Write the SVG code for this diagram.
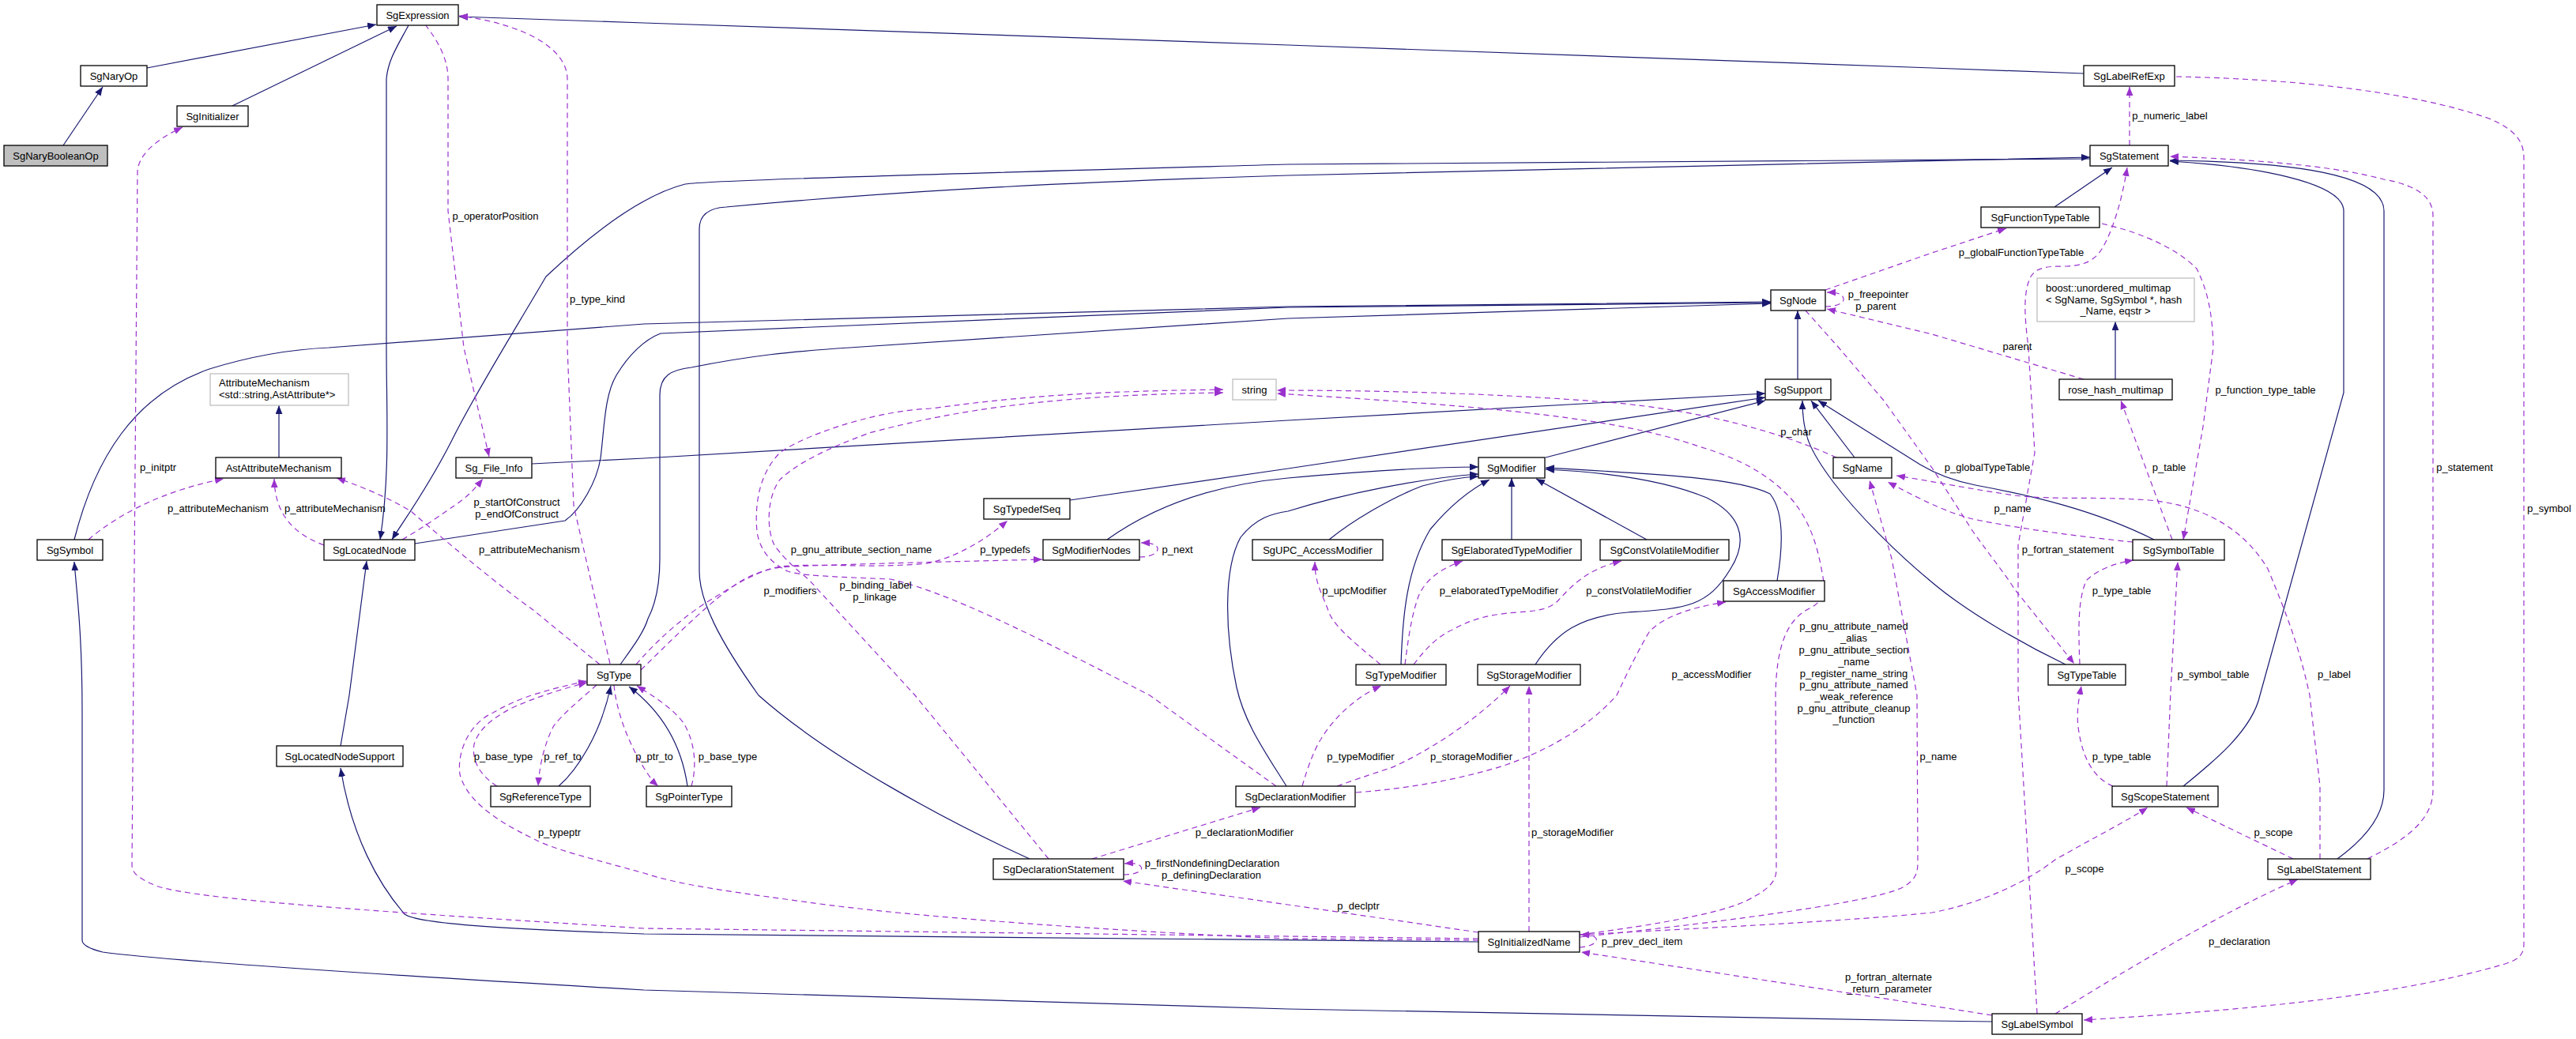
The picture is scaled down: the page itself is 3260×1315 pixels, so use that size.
<svg xmlns="http://www.w3.org/2000/svg" width="3260" height="1315" viewBox="0 0 3260 1315">
<style>
text{font-family:"Liberation Sans",Arial,sans-serif;font-size:13px;fill:#000}
.nt{text-anchor:middle}
.lb{text-anchor:middle}
.box{fill:#fff;stroke:#000;stroke-width:1.3}
.gbox{fill:#fff;stroke:#bfbfbf;stroke-width:1.3}
.cur{fill:#bfbfbf;stroke:#000;stroke-width:1.3}
.inh{fill:none;stroke:#191970;stroke-width:1.2;marker-end:url(#an)}
.use{fill:none;stroke:#9a32cd;stroke-width:1.2;stroke-dasharray:7,5;marker-end:url(#ap)}
</style>
<defs>
<marker id="an" viewBox="0 0 10 8" refX="10" refY="4" markerWidth="11" markerHeight="9" markerUnits="userSpaceOnUse" orient="auto"><path d="M0,0 L10,4 L0,8 z" fill="#191970" stroke="none"/></marker>
<marker id="ap" viewBox="0 0 10 8" refX="10" refY="4" markerWidth="11" markerHeight="9" markerUnits="userSpaceOnUse" orient="auto"><path d="M0,0 L10,4 L0,8 z" fill="#9a32cd" stroke="none"/></marker>
</defs>
<rect width="3260" height="1315" fill="#fff"/>
<g id="connectors">
<!-- inheritance -->
<path class="inh" d="M80,184 L130,110"/>
<path class="inh" d="M186,86 L476,31"/>
<path class="inh" d="M294,134 L502,33"/>
<path class="inh" d="M2637,93 L2445,86 L1630,57 L815,29 L581,21"/>
<path class="inh" d="M517,32 C505,55 491,75 489,100 L489,440 C489,520 494,600 481,683"/>
<path class="inh" d="M2645,201 L1630,208 C1200,220 900,228 867,233 C820,245 760,285 691,350 C650,420 600,500 572,557 C540,620 510,660 496,683"/>
<path class="inh" d="M1303,1087 C1200,1040 1050,960 960,880 C910,810 885,760 885,723 L885,290 C885,270 900,263 919,262 C1100,245 1300,232 1630,222 L2645,199"/>
<path class="inh" d="M2600,262 L2673,212"/>
<path class="inh" d="M2763,995 C2800,965 2850,925 2860,880 L2966,497 L2966,267 C2966,230 2850,210 2746,204"/>
<path class="inh" d="M2958,1087 C2995,1060 3017,1030 3017,1000 L3017,267 C3017,220 2900,205 2746,203"/>
<path class="inh" d="M94,683 C120,580 170,500 265,467 C320,450 370,442 416,440 L815,410 L1630,388 L2241,382"/>
<path class="inh" d="M525,688 L715,659 C735,645 755,610 760,580 C765,540 765,500 780,475 C795,450 815,430 836,422 L1630,389 L2241,383"/>
<path class="inh" d="M785,841 C800,820 815,800 820,783 C832,760 835,730 835,707 L835,500 C835,475 850,468 875,465 C950,450 1000,445 1075,440 L1630,403 L2241,384"/>
<path class="inh" d="M2275,480 L2275,393"/>
<path class="inh" d="M673,587 L815,580 L1630,532 L2234,498"/>
<path class="inh" d="M1354,633 L1630,593 L2234,503"/>
<path class="inh" d="M1956,579 L2234,507"/>
<path class="inh" d="M2347,579 L2292,507"/>
<path class="inh" d="M2726,683 C2650,645 2570,627 2500,614 C2470,608 2450,600 2430,588 L2301,507"/>
<path class="inh" d="M2614,841 C2560,815 2490,775 2445,737 C2400,700 2350,650 2320,610 C2290,570 2281,550 2281,507"/>
<path class="inh" d="M1401,683 C1450,648 1520,615 1630,605 C1720,597 1800,591 1871,591"/>
<path class="inh" d="M1628,995 C1600,950 1575,915 1565,870 C1550,800 1548,720 1570,680 C1590,655 1610,650 1630,647 C1700,625 1800,605 1871,600"/>
<path class="inh" d="M1682,683 C1710,660 1760,630 1800,615 C1830,607 1850,604 1871,603"/>
<path class="inh" d="M1773,841 C1775,780 1780,720 1810,670 C1835,640 1860,620 1885,607"/>
<path class="inh" d="M1913,683 L1913,605"/>
<path class="inh" d="M2084,683 L1944,606"/>
<path class="inh" d="M1943,841 C1970,800 2000,780 2060,775 C2130,770 2160,770 2190,720 C2215,680 2200,650 2160,630 C2100,605 2020,597 1956,594"/>
<path class="inh" d="M2249,735 C2255,700 2260,650 2240,625 C2200,605 2100,600 1956,592"/>
<path class="inh" d="M431,944 L442,880 L464,710"/>
<path class="inh" d="M1871,1192 L815,1182 C650,1176 530,1170 512,1157 C480,1120 445,1060 431,972"/>
<path class="inh" d="M2521,1293 L2445,1292 L1630,1277 L815,1253 C500,1235 200,1215 130,1205 C110,1200 104,1195 104,1190 L104,900 C104,800 97,750 94,711"/>
<path class="inh" d="M707,995 C730,975 760,930 773,868"/>
<path class="inh" d="M870,995 C865,960 850,910 796,869"/>
<path class="inh" d="M2677,480 L2677,407"/>
<path class="inh" d="M353,579 L353,513"/>
<!-- usage -->
<path class="use" d="M538,31 C555,53 567,75 567,100 L567,267 L587,440 L619,578"/>
<path class="use" d="M772,840 L726,640 L718,440 L718,100 C718,60 660,30 581,20"/>
<path class="use" d="M1871,1188 L815,1175 C500,1155 260,1140 200,1122 C175,1112 167,1105 167,1095 L174,217 C175,200 190,180 231,161"/>
<path class="use" d="M112,683 C150,650 210,620 283,606"/>
<path class="use" d="M410,690 C370,675 348,650 347,606"/>
<path class="use" d="M759,841 L676,773 C630,740 570,690 520,647 C500,635 470,620 426,605"/>
<path class="use" d="M509,683 C540,665 560,650 575,640 C590,630 600,620 611,606"/>
<path class="use" d="M805,841 C840,800 880,770 903,757 C930,740 960,722 987,717 C1040,712 1100,720 1174,713 C1210,705 1245,685 1275,659"/>
<path class="use" d="M811,848 C860,800 900,760 935,737 C955,725 975,718 1002,717 C1100,713 1200,711 1319,708"/>
<path class="use" d="M1442,705 C1462,705 1470,695 1462,690 C1458,688 1452,687 1444,687"/>
<path class="use" d="M1615,995 L1455,880 C1300,800 1200,750 1127,733 C1050,730 1010,728 997,723 C980,715 962,700 958,673 C955,640 960,600 987,573 C1010,555 1100,520 1179,517 C1300,500 1400,495 1548,493"/>
<path class="use" d="M1327,1087 L1158,880 L1023,733 C1000,715 987,700 980,690 C970,670 970,630 987,607 C1010,585 1049,567 1100,548 C1179,527 1300,500 1548,497"/>
<path class="use" d="M2324,579 C2250,545 2150,520 2046,510 C1900,498 1750,494 1616,494"/>
<path class="use" d="M1999,1183 C2100,1170 2180,1155 2210,1140 C2240,1125 2248,1115 2248,1100 L2247,880 C2248,820 2260,785 2290,770 C2310,760 2310,745 2306,725 C2300,690 2290,660 2270,635 C2240,600 2200,580 2150,565 C2050,530 1900,515 1616,498"/>
<path class="use" d="M1999,1186 C2200,1165 2380,1140 2410,1122 C2425,1112 2427,1105 2427,1090 L2426,880 L2394,707 L2366,608"/>
<path class="use" d="M2699,686 C2640,680 2560,670 2497,657 C2470,650 2445,640 2389,610"/>
<path class="use" d="M2936,1087 L2936,995 L2923,880 C2910,820 2895,780 2870,720 C2840,670 2790,640 2720,633 C2650,628 2600,633 2550,627 C2500,620 2450,610 2400,602"/>
<path class="use" d="M2310,367 L2445,320 L2539,289"/>
<path class="use" d="M2310,388 C2328,388 2334,382 2333,378 C2332,372 2325,370 2312,370"/>
<path class="use" d="M2637,480 L2445,423 L2312,391"/>
<path class="use" d="M2285,393 L2327,440 L2384,507 L2445,592 L2497,673 C2520,705 2540,730 2549,745 L2625,840"/>
<path class="use" d="M2578,1283 L2554,875 L2554,690 L2575,573 L2567,440 C2562,400 2560,370 2570,350 C2578,338 2590,337 2615,337 C2640,336 2652,328 2660,315 C2675,290 2686,250 2692,212"/>
<path class="use" d="M2660,283 C2700,292 2750,310 2780,340 C2795,370 2800,400 2801,440 L2788,540 L2763,683"/>
<path class="use" d="M2749,683 L2684,507"/>
<path class="use" d="M2632,841 C2630,790 2630,760 2640,735 C2655,720 2680,712 2700,709"/>
<path class="use" d="M2674,995 C2650,985 2635,960 2630,920 C2628,900 2630,890 2634,868"/>
<path class="use" d="M2742,995 L2747,875 L2756,711"/>
<path class="use" d="M2902,1087 L2767,1022"/>
<path class="use" d="M1999,1183 C2150,1175 2350,1165 2445,1155 C2500,1145 2560,1120 2601,1088 C2650,1060 2690,1040 2718,1022"/>
<path class="use" d="M2996,1087 C3040,1065 3079,1040 3079,1000 L3079,273 C3079,250 3060,235 3017,227 C2960,212 2880,203 2746,198"/>
<path class="use" d="M2695,184 L2695,110"/>
<path class="use" d="M2754,97 C2900,100 3050,115 3150,150 C3185,165 3194,180 3194,200 L3194,1195 C3194,1210 3185,1215 3170,1220 C3050,1255 2900,1275 2637,1291"/>
<path class="use" d="M2601,1283 C2680,1235 2800,1160 2908,1113"/>
<path class="use" d="M2521,1285 L2445,1273 L2001,1205"/>
<path class="use" d="M1999,1199 C2015,1198 2022,1192 2020,1188 C2018,1184 2010,1183 2000,1183"/>
<path class="use" d="M1935,1179 L1935,868"/>
<path class="use" d="M1692,995 C1720,985 1750,975 1760,972 C1810,950 1870,910 1911,868"/>
<path class="use" d="M1648,995 C1655,970 1665,945 1672,935 C1690,905 1720,880 1748,868"/>
<path class="use" d="M1716,1003 C1780,998 1840,988 1900,970 C1960,950 2010,920 2046,880 C2060,850 2075,820 2087,800 C2100,785 2130,770 2184,762"/>
<path class="use" d="M1382,1087 L1595,1022"/>
<path class="use" d="M1422,1107 C1440,1107 1447,1101 1444,1097 C1441,1093 1435,1092 1423,1093"/>
<path class="use" d="M1871,1180 L1630,1145 L1421,1115"/>
<path class="use" d="M1871,1190 L1630,1188 C1400,1178 1150,1160 1023,1142 C920,1128 860,1120 815,1105 C750,1087 700,1075 676,1062 C620,1035 590,1010 582,980 C578,950 595,915 624,902 C645,890 670,877 743,862"/>
<path class="use" d="M629,995 C605,980 597,960 600,942 C605,925 620,910 650,895 C680,882 710,872 743,864"/>
<path class="use" d="M755,867 C735,885 710,905 700,920 C690,940 683,965 681,995"/>
<path class="use" d="M777,867 C780,900 795,940 815,972 C820,980 825,988 833,995"/>
<path class="use" d="M875,995 C882,970 880,940 865,915 C850,895 825,880 806,868"/>
<path class="use" d="M1747,841 C1710,810 1685,790 1680,770 C1670,745 1664,735 1664,711"/>
<path class="use" d="M1778,841 C1782,810 1786,780 1795,755 C1805,730 1830,717 1851,710"/>
<path class="use" d="M1789,841 C1805,820 1820,805 1838,797 C1860,785 1880,778 1920,775 C1950,773 1962,770 1972,760 C1990,740 2010,720 2052,710"/>
</g>
<g id="edge-labels">
<text class="lb" x="627" y="278">p_operatorPosition</text>
<text class="lb" x="756" y="383">p_type_kind</text>
<text class="lb" x="200" y="596">p_initptr</text>
<text class="lb" x="276" y="648">p_attributeMechanism</text>
<text class="lb" x="424" y="648">p_attributeMechanism</text>
<text class="lb" x="670" y="700">p_attributeMechanism</text>
<text class="lb" x="654" y="640">p_startOfConstruct</text>
<text class="lb" x="654" y="655">p_endOfConstruct</text>
<text class="lb" x="1272" y="700">p_typedefs</text>
<text class="lb" x="1000" y="752">p_modifiers</text>
<text class="lb" x="1490" y="700">p_next</text>
<text class="lb" x="1090" y="700">p_gnu_attribute_section_name</text>
<text class="lb" x="1108" y="745">p_binding_label</text>
<text class="lb" x="1107" y="760">p_linkage</text>
<text class="lb" x="2273" y="551">p_char</text>
<text class="lb" x="2346" y="797">p_gnu_attribute_named</text>
<text class="lb" x="2346" y="812">_alias</text>
<text class="lb" x="2346" y="827">p_gnu_attribute_section</text>
<text class="lb" x="2346" y="842">_name</text>
<text class="lb" x="2346" y="857">p_register_name_string</text>
<text class="lb" x="2346" y="871">p_gnu_attribute_named</text>
<text class="lb" x="2346" y="886">_weak_reference</text>
<text class="lb" x="2346" y="901">p_gnu_attribute_cleanup</text>
<text class="lb" x="2346" y="915">_function</text>
<text class="lb" x="2453" y="962">p_name</text>
<text class="lb" x="2547" y="648">p_name</text>
<text class="lb" x="2954" y="858">p_label</text>
<text class="lb" x="2558" y="324">p_globalFunctionTypeTable</text>
<text class="lb" x="2377" y="377">p_freepointer</text>
<text class="lb" x="2374" y="392">p_parent</text>
<text class="lb" x="2553" y="443">parent</text>
<text class="lb" x="2515" y="596">p_globalTypeTable</text>
<text class="lb" x="2617" y="700">p_fortran_statement</text>
<text class="lb" x="2867" y="498">p_function_type_table</text>
<text class="lb" x="2745" y="596">p_table</text>
<text class="lb" x="2685" y="752">p_type_table</text>
<text class="lb" x="2685" y="962">p_type_table</text>
<text class="lb" x="2801" y="858">p_symbol_table</text>
<text class="lb" x="2877" y="1058">p_scope</text>
<text class="lb" x="2638" y="1104">p_scope</text>
<text class="lb" x="3119" y="596">p_statement</text>
<text class="lb" x="2746" y="151">p_numeric_label</text>
<text class="lb" x="3226" y="648">p_symbol</text>
<text class="lb" x="2834" y="1196">p_declaration</text>
<text class="lb" x="2390" y="1241">p_fortran_alternate</text>
<text class="lb" x="2391" y="1256">_return_parameter</text>
<text class="lb" x="2078" y="1196">p_prev_decl_item</text>
<text class="lb" x="1990" y="1058">p_storageModifier</text>
<text class="lb" x="1862" y="962">p_storageModifier</text>
<text class="lb" x="1722" y="962">p_typeModifier</text>
<text class="lb" x="2166" y="858">p_accessModifier</text>
<text class="lb" x="1575" y="1058">p_declarationModifier</text>
<text class="lb" x="1534" y="1097">p_firstNondefiningDeclaration</text>
<text class="lb" x="1533" y="1112">p_definingDeclaration</text>
<text class="lb" x="1719" y="1151">p_declptr</text>
<text class="lb" x="708" y="1058">p_typeptr</text>
<text class="lb" x="637" y="962">p_base_type</text>
<text class="lb" x="712" y="962">p_ref_to</text>
<text class="lb" x="828" y="962">p_ptr_to</text>
<text class="lb" x="921" y="962">p_base_type</text>
<text class="lb" x="1714" y="752">p_upcModifier</text>
<text class="lb" x="1897" y="752">p_elaboratedTypeModifier</text>
<text class="lb" x="2074" y="752">p_constVolatileModifier</text>
</g>
<g id="node-SgNaryBooleanOp"><rect class="cur" x="5" y="184" width="131" height="26"/><text class="nt" x="70.5" y="201.5">SgNaryBooleanOp</text></g>
<g id="node-SgNaryOp"><rect class="box" x="102" y="83" width="84" height="26"/><text class="nt" x="144" y="100.5">SgNaryOp</text></g>
<g id="node-SgInitializer"><rect class="box" x="224" y="134" width="90" height="26"/><text class="nt" x="269" y="151.5">SgInitializer</text></g>
<g id="node-SgExpression"><rect class="box" x="477" y="6" width="103" height="26"/><text class="nt" x="528.5" y="23.5">SgExpression</text></g>
<g id="node-SgLabelRefExp"><rect class="box" x="2637" y="83" width="115" height="26"/><text class="nt" x="2694.5" y="100.5">SgLabelRefExp</text></g>
<g id="node-SgStatement"><rect class="box" x="2645" y="184" width="99" height="26"/><text class="nt" x="2694.5" y="201.5">SgStatement</text></g>
<g id="node-SgFunctionTypeTable"><rect class="box" x="2507" y="262" width="150" height="26"/><text class="nt" x="2582" y="279.5">SgFunctionTypeTable</text></g>
<g id="node-boost_unordered_multimap"><rect class="gbox" x="2578" y="352" width="199" height="55"/><text x="2589" y="369">boost::unordered_multimap</text><text x="2589" y="384">&lt; SgName, SgSymbol *, hash</text><text class="nt" x="2677" y="398">_Name, eqstr &gt;</text></g>
<g id="node-SgNode"><rect class="box" x="2241" y="367" width="69" height="26"/><text class="nt" x="2275.5" y="384.5">SgNode</text></g>
<g id="node-rose_hash_multimap"><rect class="box" x="2606" y="480" width="143" height="26"/><text class="nt" x="2677.5" y="497.5">rose_hash_multimap</text></g>
<g id="node-SgSupport"><rect class="box" x="2234" y="480" width="83" height="26"/><text class="nt" x="2275.5" y="497.5">SgSupport</text></g>
<g id="node-string"><rect class="gbox" x="1560" y="480" width="55" height="26"/><text class="nt" x="1587.5" y="497.5">string</text></g>
<g id="node-AttributeMechanism"><rect class="gbox" x="266" y="473" width="175" height="40"/><text x="277" y="489">AttributeMechanism</text><text x="277" y="504">&lt;std::string,AstAttribute*&gt;</text></g>
<g id="node-AstAttributeMechanism"><rect class="box" x="273" y="579" width="159" height="26"/><text class="nt" x="352.5" y="596.5">AstAttributeMechanism</text></g>
<g id="node-Sg_File_Info"><rect class="box" x="577" y="579" width="96" height="26"/><text class="nt" x="625" y="596.5">Sg_File_Info</text></g>
<g id="node-SgSymbol"><rect class="box" x="47" y="683" width="83" height="26"/><text class="nt" x="88.5" y="700.5">SgSymbol</text></g>
<g id="node-SgLocatedNode"><rect class="box" x="410" y="683" width="115" height="26"/><text class="nt" x="467.5" y="700.5">SgLocatedNode</text></g>
<g id="node-SgType"><rect class="box" x="743" y="841" width="68" height="26"/><text class="nt" x="777" y="858.5">SgType</text></g>
<g id="node-SgTypedefSeq"><rect class="box" x="1245" y="631" width="109" height="26"/><text class="nt" x="1299.5" y="648.5">SgTypedefSeq</text></g>
<g id="node-SgModifierNodes"><rect class="box" x="1320" y="683" width="122" height="26"/><text class="nt" x="1381" y="700.5">SgModifierNodes</text></g>
<g id="node-SgUPC_AccessModifier"><rect class="box" x="1585" y="683" width="165" height="26"/><text class="nt" x="1667.5" y="700.5">SgUPC_AccessModifier</text></g>
<g id="node-SgModifier"><rect class="box" x="1871" y="579" width="84" height="26"/><text class="nt" x="1913" y="596.5">SgModifier</text></g>
<g id="node-SgElaboratedTypeModifier"><rect class="box" x="1825" y="683" width="176" height="26"/><text class="nt" x="1913" y="700.5">SgElaboratedTypeModifier</text></g>
<g id="node-SgConstVolatileModifier"><rect class="box" x="2025" y="683" width="163" height="26"/><text class="nt" x="2106.5" y="700.5">SgConstVolatileModifier</text></g>
<g id="node-SgAccessModifier"><rect class="box" x="2181" y="735" width="128" height="26"/><text class="nt" x="2245" y="752.5">SgAccessModifier</text></g>
<g id="node-SgName"><rect class="box" x="2320" y="579" width="74" height="26"/><text class="nt" x="2357" y="596.5">SgName</text></g>
<g id="node-SgSymbolTable"><rect class="box" x="2699" y="683" width="116" height="26"/><text class="nt" x="2757" y="700.5">SgSymbolTable</text></g>
<g id="node-SgTypeModifier"><rect class="box" x="1716" y="841" width="114" height="26"/><text class="nt" x="1773" y="858.5">SgTypeModifier</text></g>
<g id="node-SgStorageModifier"><rect class="box" x="1870" y="841" width="130" height="26"/><text class="nt" x="1935" y="858.5">SgStorageModifier</text></g>
<g id="node-SgTypeTable"><rect class="box" x="2592" y="841" width="98" height="26"/><text class="nt" x="2641" y="858.5">SgTypeTable</text></g>
<g id="node-SgLocatedNodeSupport"><rect class="box" x="350" y="944" width="160" height="26"/><text class="nt" x="430" y="961.5">SgLocatedNodeSupport</text></g>
<g id="node-SgReferenceType"><rect class="box" x="621" y="995" width="126" height="26"/><text class="nt" x="684" y="1012.5">SgReferenceType</text></g>
<g id="node-SgPointerType"><rect class="box" x="818" y="995" width="108" height="26"/><text class="nt" x="872" y="1012.5">SgPointerType</text></g>
<g id="node-SgDeclarationModifier"><rect class="box" x="1564" y="995" width="151" height="26"/><text class="nt" x="1639.5" y="1012.5">SgDeclarationModifier</text></g>
<g id="node-SgDeclarationStatement"><rect class="box" x="1257" y="1087" width="165" height="26"/><text class="nt" x="1339.5" y="1104.5">SgDeclarationStatement</text></g>
<g id="node-SgScopeStatement"><rect class="box" x="2673" y="995" width="134" height="26"/><text class="nt" x="2740" y="1012.5">SgScopeStatement</text></g>
<g id="node-SgLabelStatement"><rect class="box" x="2870" y="1087" width="130" height="26"/><text class="nt" x="2935" y="1104.5">SgLabelStatement</text></g>
<g id="node-SgInitializedName"><rect class="box" x="1871" y="1179" width="128" height="26"/><text class="nt" x="1935" y="1196.5">SgInitializedName</text></g>
<g id="node-SgLabelSymbol"><rect class="box" x="2521" y="1283" width="114" height="26"/><text class="nt" x="2578" y="1300.5">SgLabelSymbol</text></g>
</svg>
